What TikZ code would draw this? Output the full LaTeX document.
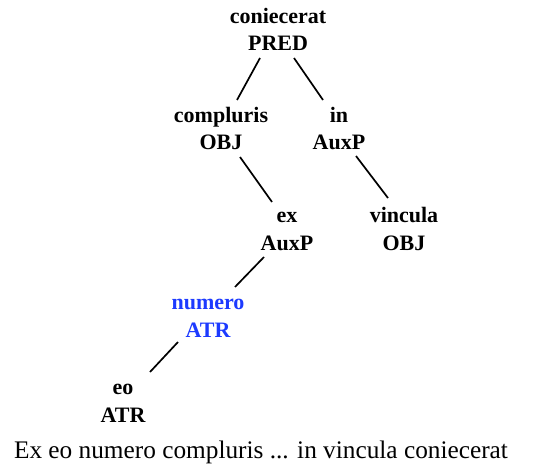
\documentclass[tikz,border=0pt]{standalone}
\usepackage{fontspec}
\setmainfont{Liberation Serif}
\usetikzlibrary{calc}
\definecolor{treeblue}{RGB}{28,58,255}
\begin{document}
\begin{tikzpicture}[x=1pt,y=-1pt,
    tnode/.style={anchor=base,align=center,inner sep=0pt,
      font=\fontsize{22}{27.5}\selectfont\bfseries},
    tedge/.style={line width=1.7pt}]
	\useasboundingbox (0,0) rectangle (537,470);

	\node[tnode] (pred) at (278,51) {coniecerat\\PRED};
	\node[tnode] (compluris) at (221,150) {compluris\\OBJ};
	\node[tnode] (in) at (339,150) {in\\AuxP};
	\node[tnode] (ex) at (287,250) {ex\\AuxP};
	\node[tnode] (vincula) at (404,250) {vincula\\OBJ};
	\node[tnode,text=treeblue] (numero) at (208,337) {numero\\ATR};
	\node[tnode] (eo) at (123,422) {eo\\ATR};

	\draw[tedge] ($(pred.base)+(-18,7)$) -- ($(compluris.base)+(16,-50)$);
	\draw[tedge] ($(pred.base)+(16,7)$) -- ($(in.base)+(-16,-50)$);
	\draw[tedge] ($(compluris.base)+(19,7)$) -- ($(ex.base)+(-15,-48)$);
	\draw[tedge] ($(in.base)+(17,6)$) -- ($(vincula.base)+(-16,-52)$);
	\draw[tedge] ($(ex.base)+(-23,7)$) -- ($(numero.base)+(27,-50)$);
	\draw[tedge] ($(numero.base)+(-30,5)$) -- ($(eo.base)+(27,-50)$);

	\node[anchor=base,inner sep=0pt,font=\fontsize{25.3}{30}\selectfont] (sent) at (261,458)
	  {Ex eo numero compluris ... in vincula coniecerat};
\end{tikzpicture}
\end{document}
